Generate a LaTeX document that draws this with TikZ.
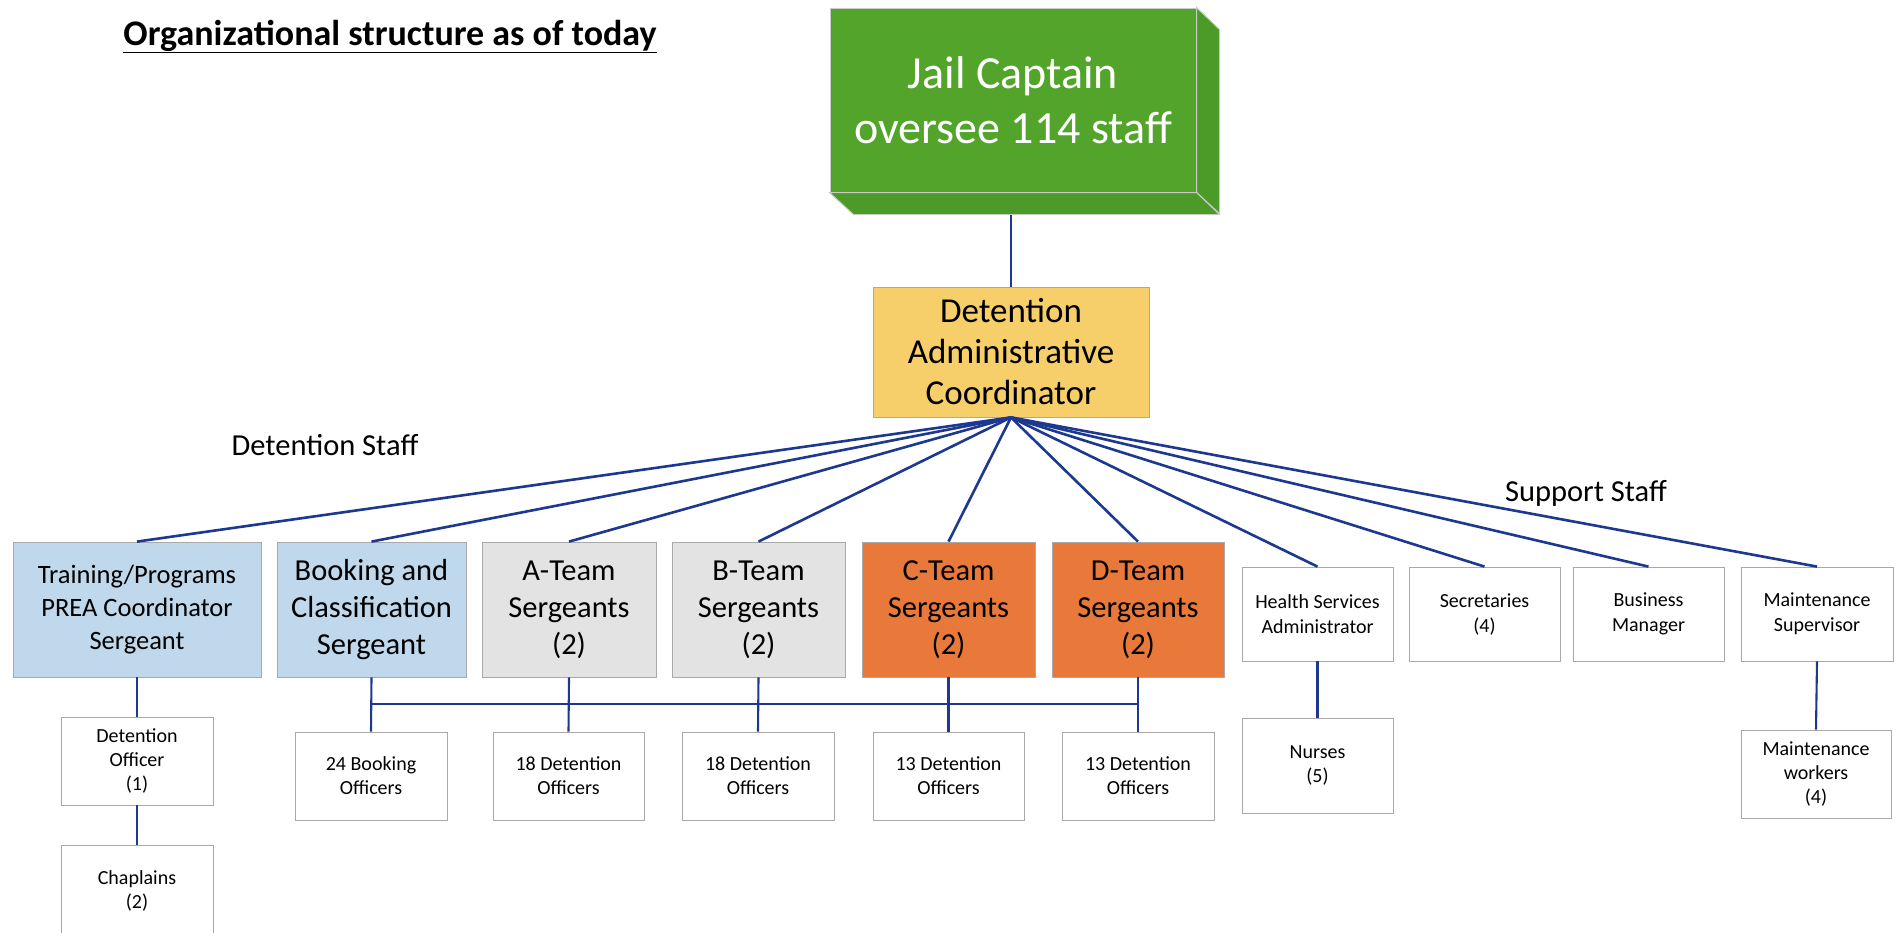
\documentclass[tikz,border=0pt]{standalone}
\usepackage{fontspec}
\setmainfont{Carlito}
\definecolor{gfront}{HTML}{52A52A}
\definecolor{gside}{HTML}{4C9A27}
\definecolor{gedge}{HTML}{C8CCC4}
\definecolor{yel}{HTML}{F7CF6A}
\definecolor{lblue}{HTML}{BFD8EC}
\definecolor{lgray}{HTML}{E3E3E3}
\definecolor{orng}{HTML}{E8793A}
\definecolor{boxline}{HTML}{A9A9A9}
\definecolor{linecol}{HTML}{1C3890}
\begin{document}
\begin{tikzpicture}[x=1pt,y=-1pt,
  box/.style={draw=boxline, line width=0.8pt, align=center, inner sep=0pt, text=black},
  sgt/.style={box, minimum height=135pt, font=\fontsize{30.5}{37}\selectfont},
  sup/.style={box, fill=white, minimum width=151pt, minimum height=94pt, font=\fontsize{20}{25}\selectfont},
  sub/.style={box, fill=white, minimum width=152pt, minimum height=88pt, font=\fontsize{20}{24}\selectfont},
  conn/.style={draw=linecol, line width=2.6pt},
  vconn/.style={draw=linecol, line width=2.1pt},
  lbl/.style={font=\fontsize{30.5}{36}\selectfont, inner sep=0pt}]
\clip (0,0) rectangle (1896,932);
\fill[white] (0,0) rectangle (1896,932);

% title
\node[font=\bfseries\fontsize{36}{43}\selectfont, anchor=base, inner sep=0pt] (title) at (390,45) {\underline{Organizational structure as of today}};

% jail captain (3D box)
\node[draw=gedge, line width=1pt, fill=gfront, minimum width=366pt, minimum height=184pt,
      text=white, font=\fontsize{46}{55}\selectfont, align=center, inner sep=0pt] (cap) at (1013,100) {Jail Captain\\oversee 114 staff};
\filldraw[fill=gside, draw=gedge, line width=1pt] (cap.north east) -- ++(23,22) -- ++(0,184) -- (cap.south east) -- cycle;
\filldraw[fill=gside, draw=gedge, line width=1pt] (cap.south west) -- (cap.south east) -- ++(23,22) -- ++(-366,0) -- cycle;

% administrative coordinator
\node[box, fill=yel, minimum width=276pt, minimum height=130pt, font=\fontsize{35}{41}\selectfont] (dac) at (1011,352) {Detention\\Administrative\\Coordinator};

% group labels
\node[lbl] (dstaff) at (325,445) {Detention Staff};
\node[lbl] (sstaff) at (1586,493) {Support Staff};

% detention staff
\node[sgt, fill=lblue, minimum width=248pt, font=\fontsize{26.5}{33}\selectfont] (train) at (137,609.5) {Training/Programs\\PREA Coordinator\\Sergeant};
\node[sgt, fill=lblue, minimum width=189pt] (book) at (371.5,609.5) {Booking and\\Classification\\Sergeant};
\node[sgt, fill=lgray, minimum width=174pt] (ateam) at (569,609.5) {A-Team\\Sergeants\\(2)};
\node[sgt, fill=lgray, minimum width=173pt] (bteam) at (758.5,609.5) {B-Team\\Sergeants\\(2)};
\node[sgt, fill=orng, minimum width=173pt] (cteam) at (948.5,609.5) {C-Team\\Sergeants\\(2)};
\node[sgt, fill=orng, minimum width=172pt] (dteam) at (1138,609.5) {D-Team\\Sergeants\\(2)};

% support staff
\node[sup] (health) at (1317.5,614) {Health Services\\Administrator};
\node[sup] (secr) at (1484.5,614) {Secretaries\\(4)};
\node[sup] (bus) at (1648.5,614) {Business\\Manager};
\node[sup, minimum width=152pt] (msup) at (1817,614) {Maintenance\\Supervisor};

% third level
\node[sub] (dofc) at (137,761) {Detention\\Officer\\(1)};
\node[sub, minimum height=91pt] (chap) at (137,890.5) {Chaplains\\(2)};
\node[sub] (boff) at (371,776) {24 Booking\\Officers};
\node[sub, minimum width=151pt] (aoff) at (568.5,776) {18 Detention\\Officers};
\node[sub] (boff2) at (758,776) {18 Detention\\Officers};
\node[sub, minimum width=151pt] (coff) at (948.5,776) {13 Detention\\Officers};
\node[sub] (doff) at (1138,776) {13 Detention\\Officers};
\node[sub, minimum width=151pt, minimum height=95pt] (nurse) at (1317.5,765.5) {Nurses\\(5)};
\node[sub, minimum width=150pt] (mwork) at (1816,774) {Maintenance\\workers\\(4)};

% connectors
\draw[vconn] (dac.north) -- ([yshift=-22pt]cap.south -| dac.north);
\foreach \n in {train,book,ateam,bteam,cteam,dteam,health,secr,bus,msup}
  \draw[conn] (dac.south) -- (\n.north);
\draw[vconn] (train.south) -- (dofc.north);
\draw[vconn] (dofc.south) -- (chap.north);
\draw[vconn] (health.south) -- (nurse.north);
\draw[vconn] (msup.south) -- (mwork.north);
\draw[vconn] (book.south) -- (boff.north);
\draw[vconn] (ateam.south) -- (aoff.north);
\draw[vconn] (bteam.south) -- (boff2.north);
\draw[vconn] (cteam.south) -- (coff.north);
\draw[vconn] (dteam.south) -- (doff.north);
\coordinate (barY) at (0,704);
\draw[vconn] (book.south |- barY) -- (dteam.south |- barY);
\end{tikzpicture}
\end{document}
